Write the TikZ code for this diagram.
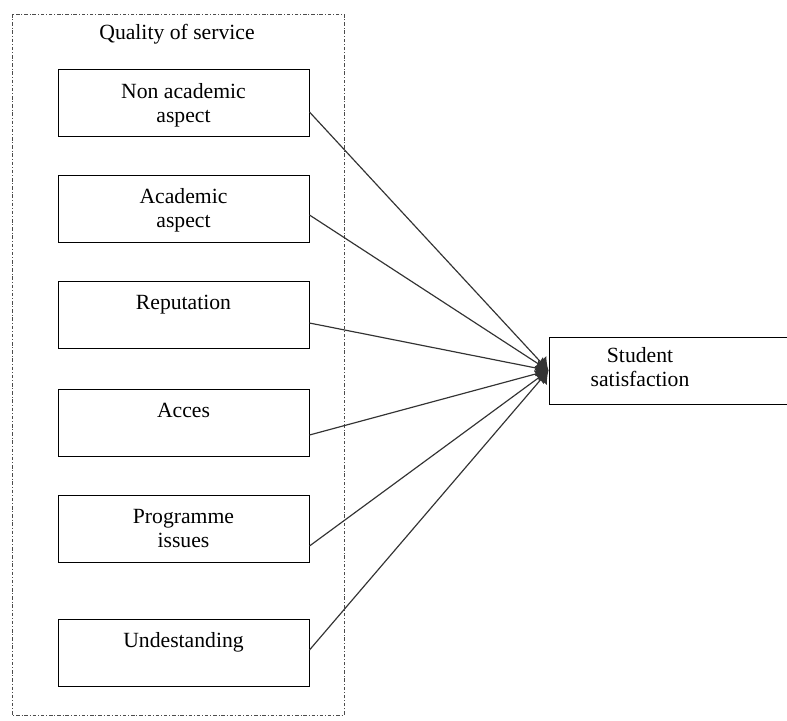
\documentclass[tikz,border=0pt]{standalone}
\usepackage{fontspec}
\setmainfont{Liberation Serif}
\usetikzlibrary{arrows.meta,calc}

\tikzset{
  factor/.style={draw, line width=0.8pt, minimum width=7.53cm, minimum height=2.01cm, inner sep=0pt},
  boxtext/.style={anchor=north, align=center, inner sep=0pt, yshift=-12pt},
  link/.style={-{Latex[length=0.36cm, width=0.5cm]}, line width=1pt, black!80},
  frame/.style={draw=black!70, line width=0.7pt, dash pattern=on 3pt off 1.6pt on 0.8pt off 1.6pt}
}

\begin{document}
\begin{tikzpicture}[x=0.03cm, y=-0.03cm, font=\fontsize{18.5}{20.5}\selectfont]
    \useasboundingbox (0,0) rectangle (787,720);

    % quality of service group
    \draw[frame] (12,14) rectangle (344,715);
    \node at (177,34) (qos) {Quality of service};

    \node[factor, label={[boxtext]north:{Non academic\\aspect}}] at (183.5,103)   (nonacad) {};
    \node[factor, label={[boxtext]north:{Academic\\aspect}}]     at (183.5,208.5) (acad)    {};
    \node[factor, label={[boxtext]north:{Reputation}}]           at (183.5,314.5) (rep)     {};
    \node[factor, label={[boxtext]north:{Acces}}]                at (183.5,422.5) (acc)     {};
    \node[factor, label={[boxtext]north:{Programme\\issues}}]    at (183.5,528.5) (prog)    {};
    \node[factor, label={[boxtext]north:{Undestanding}}]         at (183.5,652.5) (und)     {};

    \node[factor, minimum width=7.29cm,
          label={[boxtext, xshift=-26pt, yshift=3pt]north:{Student\\satisfaction}}] at (670.5,370.5) (sat) {};

    \foreach \b/\dy in {nonacad/9, acad/6.5, rep/8.5, acc/12.5, prog/17.5, und/-2.5}
      \draw[link] ($(\b.east)+(0,\dy)$) -- (sat.west);
\end{tikzpicture}
\end{document}
